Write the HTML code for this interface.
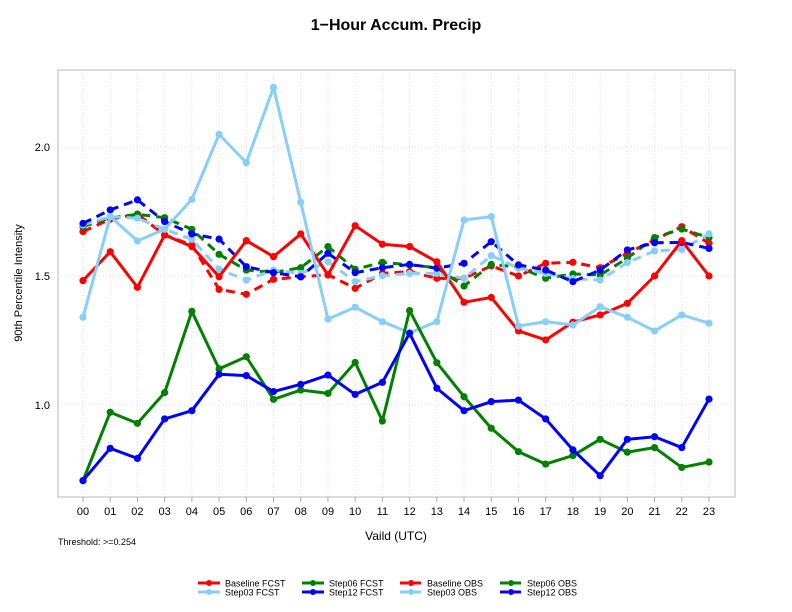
<!DOCTYPE html>
<html><head><meta charset="utf-8"><style>
body{margin:0;background:#fff;font-family:"Liberation Sans",sans-serif}
svg{display:block}
</style></head><body>
<svg id="chart" width="792" height="612" viewBox="0 0 792 612">
<rect width="792" height="612" fill="#fff"/>
<text x="396" y="30" text-anchor="middle" font-size="16" font-weight="bold">1−Hour Accum. Precip</text>
<g id="grid"></g>
<rect x="58" y="70" width="677" height="427" fill="none" stroke="#d0d0d0" stroke-width="1.5"/>
<g id="axes"></g>
<g id="series"></g>
<text x="396" y="540" text-anchor="middle" font-size="12">Vaild (UTC)</text>
<text transform="translate(22,283) rotate(-90)" text-anchor="middle" font-size="11">90th Percentile Intensity</text>
<text x="58" y="545" font-size="9">Threshold: &gt;=0.254</text>
<g id="legend"></g>
</svg>
<script>
const categories=["00","01","02","03","04","05","06","07","08","09","10","11","12","13","14","15","16","17","18","19","20","21","22","23"];
const yTicks=[1.0,1.5,2.0];
const yTickLabels=["1.0","1.5","2.0"];
const baselineFcst=[1.482,1.594,1.456,1.659,1.614,1.497,1.637,1.575,1.663,1.504,1.695,1.623,1.614,1.555,1.398,1.417,1.287,1.252,1.321,1.349,1.394,1.5,1.637,1.5];
const step03Fcst=[1.340,1.730,1.636,1.681,1.797,2.049,1.939,2.231,1.786,1.333,1.379,1.323,1.280,1.323,1.717,1.730,1.306,1.323,1.310,1.381,1.340,1.287,1.349,1.317];
const step06Fcst=[0.707,0.972,0.929,1.048,1.363,1.140,1.187,1.022,1.058,1.045,1.165,0.938,1.366,1.164,1.032,0.910,0.819,0.771,0.804,0.867,0.817,0.835,0.758,0.779];
const step12Fcst=[0.707,0.832,0.793,0.946,0.978,1.119,1.114,1.052,1.080,1.116,1.041,1.088,1.278,1.065,0.978,1.013,1.019,0.946,0.826,0.726,0.867,0.877,0.835,1.023];
const baselineObs=[1.672,1.720,1.740,1.659,1.620,1.448,1.429,1.487,1.497,1.505,1.452,1.510,1.517,1.491,1.491,1.539,1.500,1.549,1.553,1.532,1.588,1.640,1.691,1.627];
const step06Obs=[1.691,1.726,1.739,1.726,1.681,1.584,1.523,1.514,1.532,1.614,1.526,1.553,1.543,1.532,1.461,1.545,1.534,1.491,1.508,1.504,1.569,1.649,1.682,1.649];
const step03Obs=[1.698,1.730,1.724,1.681,1.642,1.526,1.484,1.523,1.510,1.555,1.478,1.501,1.510,1.510,1.491,1.579,1.530,1.510,1.490,1.484,1.552,1.597,1.603,1.663];
const step12Obs=[1.704,1.756,1.795,1.711,1.663,1.643,1.536,1.513,1.497,1.588,1.513,1.532,1.545,1.530,1.549,1.633,1.543,1.523,1.478,1.523,1.601,1.629,1.630,1.607];

const NS="http://www.w3.org/2000/svg";
const X0=83,DX=(709-83)/23;
function x(i){return X0+i*DX;}
function y(v){return 405-(v-1)*258;}
function mk(tag,parent,attrs){const e=document.createElementNS(NS,tag);for(const k in attrs)e.setAttribute(k,attrs[k]);parent.appendChild(e);return e;}
const grid=document.getElementById('grid'),axes=document.getElementById('axes'),ser=document.getElementById('series'),leg=document.getElementById('legend');
categories.forEach((c,i)=>{
  const g=mk('line',grid,{x1:x(i),x2:x(i),y1:70,y2:497,stroke:'#dcdcdc','stroke-dasharray':'1,2'});
  
  
  const t=mk('line',axes,{x1:x(i),x2:x(i),y1:497,y2:502,stroke:'#aaa'});
  
  
  const l=mk('text',axes,{x:x(i),y:515,'text-anchor':'middle','font-size':'11'});
  l.textContent=c;
  
  
});
yTicks.forEach((v,i)=>{
  const g=mk('line',grid,{x1:58,x2:735,y1:y(v),y2:y(v),stroke:'#dcdcdc','stroke-dasharray':'1,2'});
  
  
  const l=mk('text',axes,{x:50,y:y(v)+4,'text-anchor':'end','font-size':'11'});
  l.textContent=yTickLabels[i];
  
  
});
const seriesDefs=[
 {name:'Baseline FCST',data:baselineFcst,color:'#ff0000',dash:null,key:'baseline-fcst'},
 {name:'Step03 FCST',data:step03Fcst,color:'#87cefa',dash:null,key:'step03-fcst'},
 {name:'Step06 FCST',data:step06Fcst,color:'#008000',dash:null,key:'step06-fcst'},
 {name:'Step12 FCST',data:step12Fcst,color:'#0000ff',dash:null,key:'step12-fcst'},
 {name:'Baseline OBS',data:baselineObs,color:'#ff0000',dash:'9,6',key:'baseline-obs'},
 {name:'Step03 OBS',data:step03Obs,color:'#87cefa',dash:'9,6',key:'step03-obs'},
 {name:'Step06 OBS',data:step06Obs,color:'#008000',dash:'9,6',key:'step06-obs'},
 {name:'Step12 OBS',data:step12Obs,color:'#0000ff',dash:'9,6',key:'step12-obs'}
];
const drawOrder=[4,6,5,7,0,1,2,3];
drawOrder.forEach(si=>{
  const s=seriesDefs[si];
  const g=mk('g',ser,{});
  
  
  const attrs={points:s.data.map((v,i)=>x(i)+','+y(v)).join(' '),fill:'none',stroke:s.color,'stroke-width':'3','stroke-linejoin':'round'};
  if(s.dash)attrs['stroke-dasharray']=s.dash;
  const p=mk('polyline',g,attrs);
  
  
  s.data.forEach((v,i)=>{
    const c=mk('circle',g,{cx:x(i),cy:y(v),r:3.6,fill:s.color});
    
    
  });
});
const legOrder=[0,2,4,6,1,3,5,7];
const colX=[198,302,400,500];
legOrder.forEach((si,k)=>{
  const s=seriesDefs[si];
  const cx=colX[k%4],cy=k<4?583:592;
  const g=mk('g',leg,{});
  
  
  const la={x1:cx,x2:cx+22,y1:cy,y2:cy,stroke:s.color,'stroke-width':'3'};
  if(s.dash)la['stroke-dasharray']='8,5';
  mk('line',g,la);
  mk('circle',g,{cx:cx+11,cy:cy,r:3,fill:s.color});
  const t=mk('text',g,{x:cx+27,y:cy+3.5,'font-size':'9'});
  t.textContent=s.name;
});
</script>
</body></html>
